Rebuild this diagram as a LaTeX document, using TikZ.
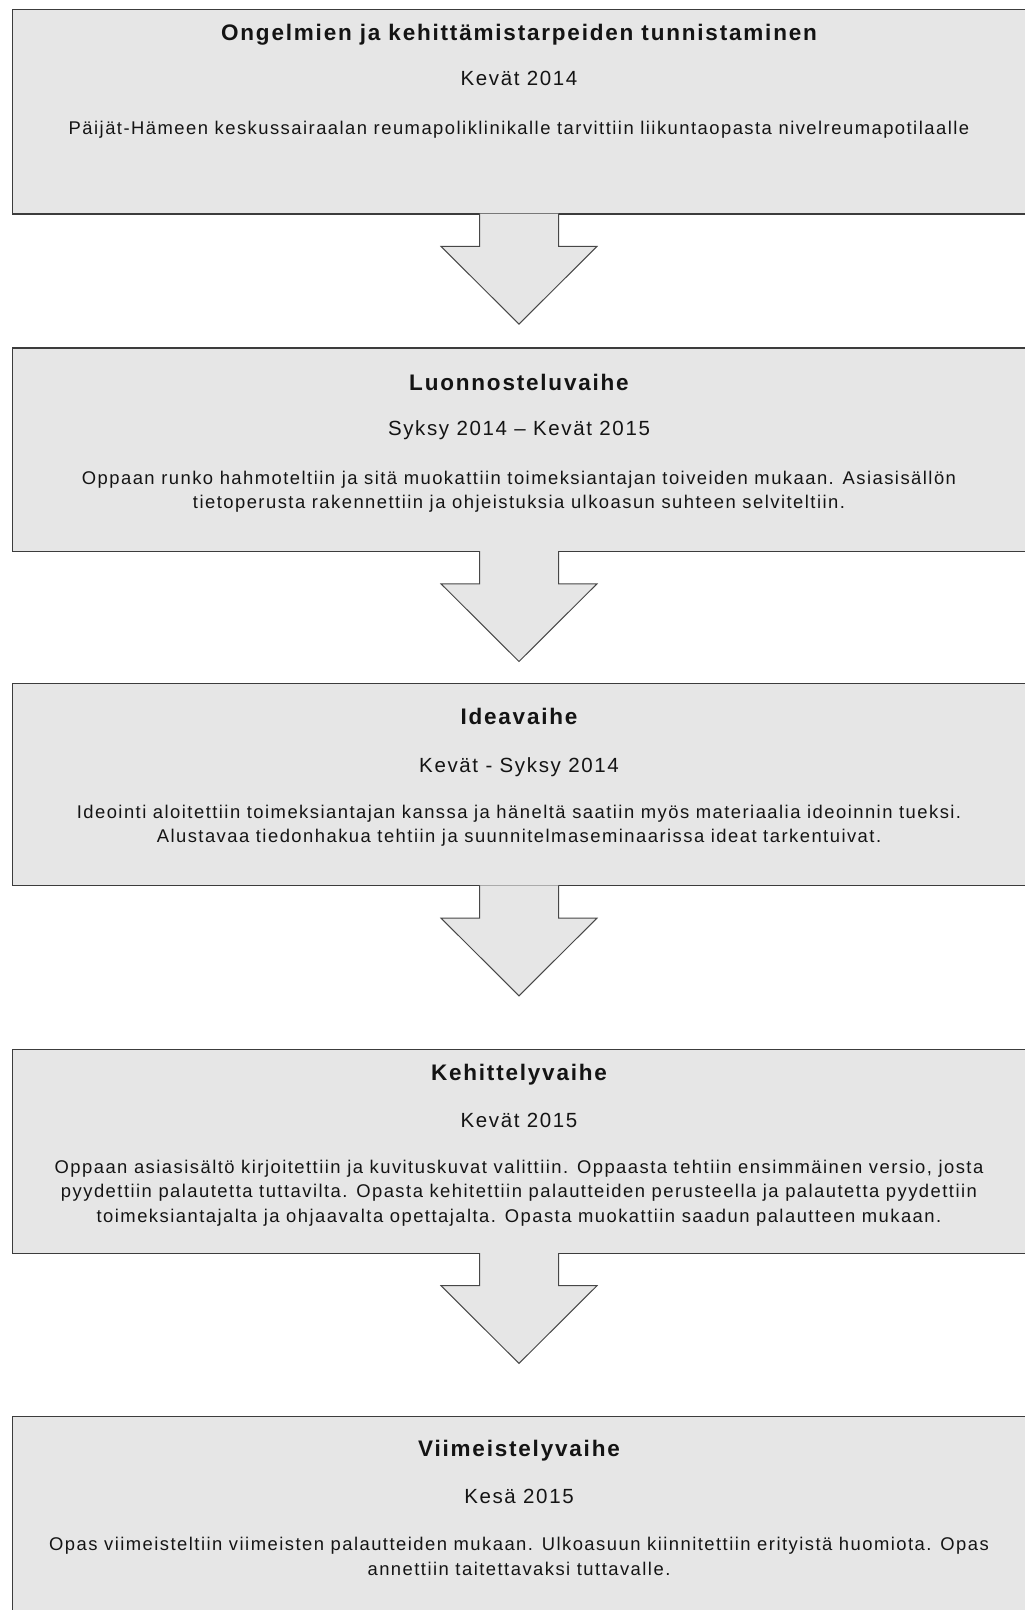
\documentclass[tikz,border=0pt]{standalone}
\usepackage{fontspec}
\setmainfont[LetterSpace=8]{Liberation Sans}
\usetikzlibrary{positioning,calc}
\definecolor{vaihefill}{HTML}{E6E6E6}
\definecolor{vaiheedge}{HTML}{3C3C3C}
\tikzset{
  vaihe/.style  = {rectangle, draw=vaiheedge, fill=vaihefill, line width=1.4pt,
                   minimum width=1012.6pt, inner sep=0pt, anchor=north},
  nuoli/.style  = {draw=black!72, fill=vaihefill, line width=1pt, line join=miter}
}

\begin{document}
\begin{tikzpicture}[
    x=1pt, y=1pt,
    otsikko/.style={font=\fontsize{22.5}{27}\selectfont\bfseries, text=black!92, inner sep=0pt},
    aika/.style={font=\fontsize{20.5}{24}\selectfont, text=black!92, inner sep=0pt},
    kuvaus/.style={font=\fontsize{18.4}{24.6}\selectfont, text=black!92, align=center, inner sep=0pt}
  ]
  \useasboundingbox (0,0) rectangle (1025,-1610);

  % ===================== vaiheet =====================
  \node[vaihe, minimum height=204.3pt] (s1) at (519,-9) {};
  \node[vaihe, minimum height=203.4pt] (s2) at (519,-347.3) {};
  \node[vaihe, minimum height=202.3pt] (s3) at (519,-682.7) {};
  \node[vaihe, minimum height=203.6pt] (s4) at (519,-1049) {};
  \node[vaihe, minimum height=220pt]   (s5) at (519,-1416) {};

  % ===================== tekstit =====================
  \node[otsikko] (s1o) at ([yshift=-25.5pt]s1.north) {Ongelmien ja kehittämistarpeiden tunnistaminen};
  \node[aika]    (s1a) at ([yshift=-69.5pt]s1.north) {Kevät 2014};
  \node[kuvaus]  (s1k) at ([yshift=-121pt]s1.north) {Päijät-Hämeen keskussairaalan reumapoliklinikalle tarvittiin liikuntaopasta nivelreumapotilaalle};

  \node[otsikko] (s2o) at ([yshift=-35pt]s2.north) {Luonnosteluvaihe};
  \node[aika]    (s2a) at ([yshift=-82.7pt]s2.north) {Syksy 2014 – Kevät 2015};
  \node[kuvaus]  (s2k) at ([yshift=-144.5pt]s2.north) {%
    Oppaan runko hahmoteltiin ja sitä muokattiin toimeksiantajan toiveiden mukaan. Asiasisällön\\
    tietoperusta rakennettiin ja ohjeistuksia ulkoasun suhteen selviteltiin.};

  \node[otsikko] (s3o) at ([yshift=-34pt]s3.north) {Ideavaihe};
  \node[aika]    (s3a) at ([yshift=-84pt]s3.north) {Kevät - Syksy 2014};
  \node[kuvaus]  (s3k) at ([yshift=-143pt]s3.north) {%
    Ideointi aloitettiin toimeksiantajan kanssa ja häneltä saatiin myös materiaalia ideoinnin tueksi.\\
    Alustavaa tiedonhakua tehtiin ja suunnitelmaseminaarissa ideat tarkentuivat.};

  \node[otsikko] (s4o) at ([yshift=-25.5pt]s4.north) {Kehittelyvaihe};
  \node[aika]    (s4a) at ([yshift=-71pt]s4.north) {Kevät 2015};
  \node[kuvaus]  (s4k) at ([yshift=-144pt]s4.north) {%
    Oppaan asiasisältö kirjoitettiin ja kuvituskuvat valittiin. Oppaasta tehtiin ensimmäinen versio, josta\\
    pyydettiin palautetta tuttavilta. Opasta kehitettiin palautteiden perusteella ja palautetta pyydettiin\\
    toimeksiantajalta ja ohjaavalta opettajalta. Opasta muokattiin saadun palautteen mukaan.};

  \node[otsikko] (s5o) at ([yshift=-34.5pt]s5.north) {Viimeistelyvaihe};
  \node[aika]    (s5a) at ([yshift=-80.5pt]s5.north) {Kesä 2015};
  \node[kuvaus]  (s5k) at ([yshift=-140.3pt]s5.north) {%
    Opas viimeisteltiin viimeisten palautteiden mukaan. Ulkoasuun kiinnitettiin erityistä huomiota. Opas\\
    annettiin taitettavaksi tuttavalle.};

  % ===================== nuolet =====================
  \filldraw[nuoli] ([xshift=-39.5pt,yshift=1pt]s1.south) -- ++(0,-32.7) -- ++(-38.5,0)
    -- ++(78,-77.7) -- ++(78,77.7) -- ++(-38.5,0) -- ++(0,32.7);
  \filldraw[nuoli] ([xshift=-39.5pt,yshift=1pt]s2.south) -- ++(0,-32.7) -- ++(-38.5,0)
    -- ++(78,-77.7) -- ++(78,77.7) -- ++(-38.5,0) -- ++(0,32.7);
  \filldraw[nuoli] ([xshift=-39.5pt,yshift=1pt]s3.south) -- ++(0,-32.7) -- ++(-38.5,0)
    -- ++(78,-77.7) -- ++(78,77.7) -- ++(-38.5,0) -- ++(0,32.7);
  \filldraw[nuoli] ([xshift=-39.5pt,yshift=1pt]s4.south) -- ++(0,-32.7) -- ++(-38.5,0)
    -- ++(78,-77.7) -- ++(78,77.7) -- ++(-38.5,0) -- ++(0,32.7);
\end{tikzpicture}
\end{document}
